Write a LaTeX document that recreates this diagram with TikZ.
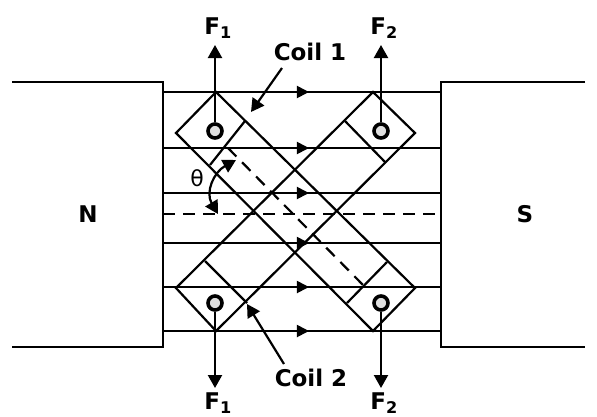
\documentclass[tikz,border=0pt]{standalone}
\usepackage{fontspec}
\setmainfont{DejaVu Sans}
\usetikzlibrary{arrows.meta}
\usetikzlibrary{decorations.markings}
\begin{document}
\begin{tikzpicture}[x=1pt,y=-1pt,line width=2.2pt,>={Triangle[length=13pt,width=14pt]},
		font=\fontsize{23}{26}\selectfont\bfseries]
		\tikzset{flux/.style={line width=2pt,postaction={decorate},decoration={markings,
				mark=at position 0.525 with {\arrow{Triangle[length=12pt,width=12pt]}}}}}
		\tikzset{axis/.style={line width=2.2pt,dash pattern=on 12pt off 8pt}}
		\tikzset{conductor/.style={circle,draw,line width=3.6pt,fill=black!12,minimum size=14pt,inner sep=0pt}}
		\useasboundingbox (0,0) rectangle (597,416);
		
		% poles
		\node (N) at (88,214) {N};
		\node (S) at (525,214) {S};
		\coordinate (Nt) at (12,82);
		\coordinate (Ntr) at (163,82);
		\coordinate (Nbr) at (163,347);
		\coordinate (Nb) at (12,347);
		\coordinate (St) at (585,82);
		\coordinate (Stl) at (441,82);
		\coordinate (Sbl) at (441,347);
		\coordinate (Sb) at (585,347);
		\draw (Nt) -- (Ntr) -- (Nbr) -- (Nb);
		\draw (St) -- (Stl) -- (Sbl) -- (Sb);
		
		% flux lines
		\foreach \name/\ypos in {a/92,b/148,c/193,d/243,e/287,f/331}{
			\coordinate (L\name) at (163,\ypos);
			\coordinate (R\name) at (441,\ypos);
			\draw[flux] (L\name) -- (R\name);
		}
		\coordinate (Lm) at (163,214);
		\coordinate (Rm) at (441,214);
		\draw[axis] (Lm) -- (Rm);
		
		% coil 1
		\coordinate (A1) at (216,92);
		\coordinate (B1) at (176,133);
		\coordinate (C1) at (373,331);
		\coordinate (D1) at (415,288);
		\draw (A1) -- (B1) -- (C1) -- (D1) -- cycle;
		\coordinate (P1) at (245,121);
		\coordinate (Q1) at (210,165);
		\coordinate (U1) at (347,303);
		\coordinate (V1) at (387,262);
		\draw (P1) -- (Q1);
		\draw (U1) -- (V1);
		\coordinate (M1) at (228,148);
		\coordinate (M2) at (363,285);
		\draw[axis] (M1) -- (M2);
		
		% coil 2
		\coordinate (A2) at (216,331);
		\coordinate (B2) at (176,288);
		\coordinate (C2) at (373,92);
		\coordinate (D2) at (415,133);
		\draw (A2) -- (B2) -- (C2) -- (D2) -- cycle;
		\coordinate (P2) at (205,261);
		\coordinate (Q2) at (247,303);
		\coordinate (U2) at (345,121);
		\coordinate (V2) at (385,162);
		\draw (P2) -- (Q2);
		\draw (U2) -- (V2);
		
		% forces
		\node[conductor] (c1) at (215,131) {};
		\node[conductor] (c2) at (381,131) {};
		\node[conductor] (c3) at (215,303) {};
		\node[conductor] (c4) at (381,303) {};
		\node (F1t) at (218,28) {F\textsubscript{1}};
		\node (F2t) at (384,28) {F\textsubscript{2}};
		\node (F1b) at (218,403) {F\textsubscript{1}};
		\node (F2b) at (384,403) {F\textsubscript{2}};
		\coordinate (T1) at (215,45);
		\coordinate (T2) at (381,45);
		\coordinate (T3) at (215,388);
		\coordinate (T4) at (381,388);
		\draw[->] (c1) -- (T1);
		\draw[->] (c2) -- (T2);
		\draw[->] (c3) -- (T3);
		\draw[->] (c4) -- (T4);
		
		% labels
		\node (coila) at (310,52) {Coil 1};
		\node (coilb) at (311,378) {Coil 2};
		\coordinate (ca) at (282,68);
		\coordinate (cb) at (251,112);
		\coordinate (cc) at (284,364);
		\coordinate (cd) at (247,304);
		\draw[->] (ca) -- (cb);
		\draw[->] (cc) -- (cd);
		\node[font=\fontsize{22}{26}\selectfont] (theta) at (197,178) {θ};
		\coordinate (th1) at (236,160);
		\coordinate (th2) at (218,214);
		\draw[<->] (th1) .. controls (214,172) and (205,192) .. (th2);
\end{tikzpicture}
\end{document}
